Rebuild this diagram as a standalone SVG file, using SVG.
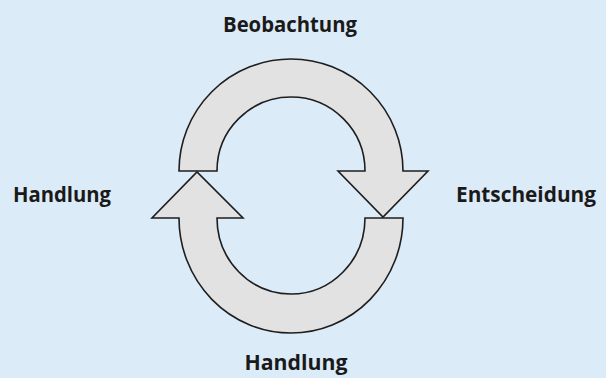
<svg xmlns="http://www.w3.org/2000/svg" width="606" height="378" viewBox="0 0 606 378">
<style>
.arrow{fill:#e2e2e2;stroke:#1e1e1e;stroke-width:1.6;stroke-linejoin:miter}
.lbl{font-family:"Open Sans","Noto Sans","DejaVu Sans",sans-serif;font-weight:700;font-size:21px;fill:#1a1a1a}
</style>
<rect x="0" y="0" width="606" height="378" fill="#dcebf8"/>
<g id="connectors">
<path id="top-arrow" class="arrow" d="M179,171 A112,112 0 0 1 403,171 L428,171 L383,217 L338,171 L365,171 A74,74 0 0 0 217,171 Z"/>
<path id="bottom-arrow" class="arrow" d="M179,218 A112,115 0 0 0 403,218 L365,218 A74,76 0 0 1 217,218 L243,218 L197,172 L152,218 Z"/>
</g>
<g id="node-beobachtung"><text class="lbl" x="290" y="32" text-anchor="middle" textLength="134" lengthAdjust="spacingAndGlyphs">Beobachtung</text></g>
<g id="node-handlung-left"><text class="lbl" x="62" y="202" text-anchor="middle" textLength="98" lengthAdjust="spacingAndGlyphs">Handlung</text></g>
<g id="node-entscheidung"><text class="lbl" x="526" y="202" text-anchor="middle" textLength="140" lengthAdjust="spacingAndGlyphs">Entscheidung</text></g>
<g id="node-handlung-bottom"><text class="lbl" x="296" y="370" text-anchor="middle" textLength="103" lengthAdjust="spacingAndGlyphs">Handlung</text></g>
</svg>
